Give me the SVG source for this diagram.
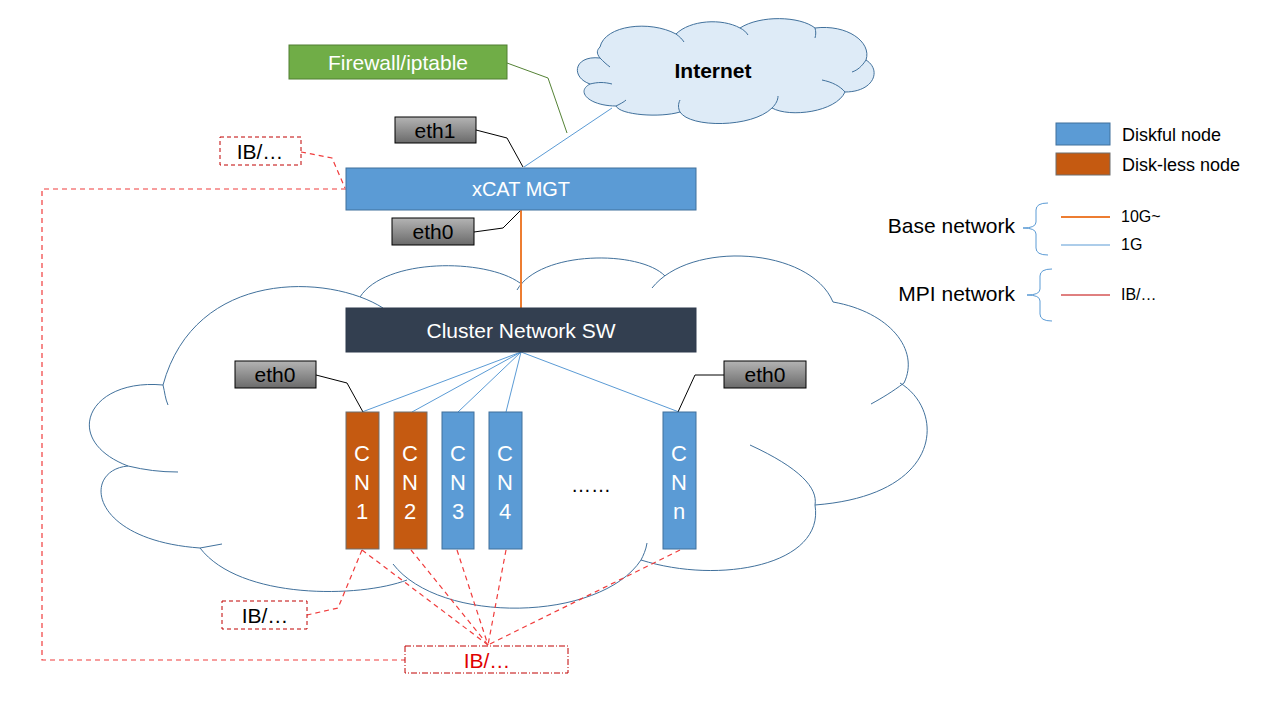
<svg xmlns="http://www.w3.org/2000/svg" width="1280" height="720" viewBox="0 0 1280 720">
<defs>
<linearGradient id="gray" x1="0" y1="0" x2="0" y2="1">
<stop offset="0" stop-color="#B4B4B4"/>
<stop offset="1" stop-color="#6A6A6A"/>
</linearGradient>
<style>
text{font-family:"Liberation Sans",Arial,sans-serif;}
.cloud{fill:none;stroke:#41719C;stroke-width:1;}
.eth rect{fill:url(#gray);stroke:#000;stroke-width:1;}
.eth text{font-size:21px;fill:#000;text-anchor:middle;}
.wt{fill:#fff;text-anchor:middle;}
.blk{stroke:#000;stroke-width:1;fill:none;}
.g1{stroke:#5B9BD5;stroke-width:1;fill:none;}
.ib{stroke:#F03C3C;stroke-width:1.2;stroke-dasharray:5,4;fill:none;}
.ibbox{fill:#fff;stroke:#C00000;stroke-width:1;stroke-dasharray:4,3;}
.cnb{fill:#5B9BD5;stroke:#41719C;stroke-width:1;}
.cno{fill:#C55A11;stroke:#6F6F6F;stroke-width:1;}
.cnt{font-size:22px;fill:#fff;text-anchor:middle;}
.lg{font-size:18px;fill:#000;}
</style>
</defs>
<rect width="1280" height="720" fill="#fff"/>

<!-- big cluster cloud -->
<g id="cluster-cloud" class="cloud">
<path d="M163,385 C195,268 330,274 383,308"/>
<path d="M360,297 C385,258 485,258 520,283"/>
<path d="M517,290 C540,250 640,250 665,276"/>
<path d="M652,288 C690,240 810,247 833,302"/>
<path d="M833,302 C890,312 920,350 904,383"/>
<path d="M904,383 C892,392 882,398 871,404"/>
<path d="M900,383 C945,410 945,495 815,505"/>
<path d="M750,445 C800,468 818,488 815,505"/>
<path d="M815,505 C825,565 720,585 641,560"/>
<path d="M647,543 C646,550 643,556 641,560"/>
<path d="M393,564 C440,625 600,622 641,560"/>
<path d="M407,580 C360,598 240,600 200,548"/>
<path d="M200,548 L222,544"/>
<path d="M200,548 C88,540 82,470 128,466"/>
<path d="M128,466 C145,470 160,472 178,472"/>
<path d="M128,466 C60,440 88,378 163,385"/>
<path d="M163,385 C165,393 165,398 168,405"/>
</g>

<!-- Internet cloud -->
<g id="internet">
<path d="M600,47 C605,25 650,20 676,34 C690,20 722,18 740,28 C760,15 800,16 815,28 C847,24 872,42 866,60 C882,70 874,92 845,92 C836,112 790,118 772,108 C752,128 690,128 680,112 C660,118 620,115 616,106 C590,106 575,92 590,84 C570,77 574,55 600,58 C596,53 597,50 600,47 Z" fill="#DEEBF7" stroke="#41719C" stroke-width="1"/>
<path class="cloud" d="M600,58 C604,62 606,64 610,67 M590,84 C598,82 604,82 612,84 M616,106 C620,104 624,102 626,100 M680,112 C678,108 678,104 680,100 M772,108 C776,104 778,100 778,96 M845,92 C840,86 832,82 822,80 M866,60 C862,66 858,70 852,72 M815,28 C816,32 816,34 815,38 M740,28 C744,30 746,32 748,35 M676,34 C680,37 682,39 684,42"/>
<text x="713" y="78" font-size="21" font-weight="bold" text-anchor="middle" fill="#000">Internet</text>
</g>

<!-- connectors -->
<g id="connectors">
<polyline points="507,63 548,78 567,133" stroke="#548235" stroke-width="1" fill="none"/>
<line x1="524" y1="167" x2="612" y2="108" class="g1"/>
<polyline class="blk" points="476,130 507,138 523,167"/>
<polyline class="blk" points="474,232 503,228 520,211"/>
<line x1="521" y1="210" x2="521" y2="308" stroke="#ED7D31" stroke-width="2"/>
<g class="g1">
<line x1="521" y1="352" x2="362" y2="412"/>
<line x1="521" y1="352" x2="412" y2="412"/>
<line x1="521" y1="352" x2="458" y2="412"/>
<line x1="521" y1="352" x2="506" y2="412"/>
<line x1="521" y1="352" x2="679" y2="412"/>
</g>
<polyline class="blk" points="316,375 347,383 363,412"/>
<polyline class="blk" points="724,375 695,375 678,412"/>
<polyline class="ib" points="301,152 332,158 345,188"/>
<polyline class="ib" points="346,189 42,189 42,660 405,660"/>
<polyline class="ib" points="362,550 338,608 307,615"/>
<g class="ib">
<line x1="362" y1="550" x2="488" y2="645"/>
<line x1="411" y1="550" x2="488" y2="645"/>
<line x1="457" y1="550" x2="488" y2="645"/>
<line x1="506" y1="550" x2="488" y2="645"/>
<line x1="680" y1="550" x2="488" y2="645"/>
</g>
</g>

<g id="firewall">
<rect x="289" y="45" width="218" height="34" fill="#70AD47" stroke="#507E32" stroke-width="1"/>
<text x="398" y="70" font-size="21" class="wt">Firewall/iptable</text>
</g>

<g id="eth1" class="eth"><rect x="395" y="117" width="81" height="26"/><text x="435" y="138">eth1</text></g>

<g id="ib-top">
<rect class="ibbox" x="220" y="137" width="81" height="28"/>
<text x="260" y="159" font-size="21" text-anchor="middle" fill="#000">IB/…</text>
</g>

<g id="xcat-mgt">
<rect x="346" y="168" width="350" height="42" fill="#5B9BD5" stroke="#41719C" stroke-width="1"/>
<text x="521" y="196" font-size="20" class="wt">xCAT MGT</text>
</g>

<g id="eth0-mgt" class="eth"><rect x="392" y="218" width="82" height="27"/><text x="433" y="239">eth0</text></g>

<g id="switch">
<rect x="346" y="308" width="350" height="44" fill="#333F50" stroke="#2F3B4C" stroke-width="1"/>
<text x="521" y="338" font-size="21" class="wt">Cluster Network SW</text>
</g>

<g id="eth0-left" class="eth"><rect x="235" y="361" width="81" height="27"/><text x="275" y="382">eth0</text></g>
<g id="eth0-right" class="eth"><rect x="724" y="361" width="82" height="27"/><text x="765" y="382">eth0</text></g>

<g id="cn1"><rect class="cno" x="346" y="412" width="33" height="137"/><text class="cnt" x="362" y="461">C</text><text class="cnt" x="362" y="490">N</text><text class="cnt" x="362" y="519">1</text></g>
<g id="cn2"><rect class="cno" x="394" y="412" width="33" height="137"/><text class="cnt" x="410" y="461">C</text><text class="cnt" x="410" y="490">N</text><text class="cnt" x="410" y="519">2</text></g>
<g id="cn3"><rect class="cnb" x="442" y="412" width="32" height="137"/><text class="cnt" x="458" y="461">C</text><text class="cnt" x="458" y="490">N</text><text class="cnt" x="458" y="519">3</text></g>
<g id="cn4"><rect class="cnb" x="489" y="412" width="33" height="137"/><text class="cnt" x="505" y="461">C</text><text class="cnt" x="505" y="490">N</text><text class="cnt" x="505" y="519">4</text></g>
<g id="dots"><text x="591" y="492" font-size="20" text-anchor="middle" fill="#000">……</text></g>
<g id="cnn"><rect class="cnb" x="663" y="412" width="33" height="137"/><text class="cnt" x="679" y="461">C</text><text class="cnt" x="679" y="490">N</text><text class="cnt" x="679" y="519">n</text></g>

<g id="ib-left">
<rect class="ibbox" x="222" y="601" width="85" height="28"/>
<text x="265" y="623" font-size="21" text-anchor="middle" fill="#000">IB/…</text>
</g>

<g id="ib-bottom">
<rect x="405" y="646" width="163" height="27" fill="#fff" stroke="#C00000" stroke-width="1" stroke-dasharray="6,2,1,2"/>
<text x="487" y="668" font-size="21" text-anchor="middle" fill="#E00000">IB/…</text>
</g>

<!-- legend -->
<g id="legend">
<rect x="1056" y="123" width="54" height="22" fill="#5B9BD5" stroke="#41719C" stroke-width="1"/>
<text class="lg" x="1122" y="141">Diskful node</text>
<rect x="1056" y="153" width="54" height="22" fill="#C55A11" stroke="#6F6F6F" stroke-width="1"/>
<text class="lg" x="1122" y="171">Disk-less node</text>
<text x="1015" y="233" font-size="21" text-anchor="end" fill="#000">Base network</text>
<path d="M1048,203 Q1036,203 1036,210 L1036,222 Q1036,228 1023,228 Q1036,228 1036,234 L1036,248 Q1036,255 1048,255" fill="none" stroke="#5B9BD5" stroke-width="1"/>
<line x1="1061" y1="217" x2="1110" y2="217" stroke="#ED7D31" stroke-width="2"/>
<text x="1121" y="222" font-size="16" fill="#000">10G~</text>
<line x1="1061" y1="245" x2="1110" y2="245" stroke="#5B9BD5" stroke-width="1"/>
<text x="1121" y="250" font-size="16" fill="#000">1G</text>
<text x="1015" y="301" font-size="21" text-anchor="end" fill="#000">MPI network</text>
<path d="M1052,269 Q1040,269 1040,276 L1040,289 Q1040,295 1027,295 Q1040,295 1040,301 L1040,314 Q1040,321 1052,321" fill="none" stroke="#5B9BD5" stroke-width="1"/>
<line x1="1061" y1="295" x2="1110" y2="295" stroke="#C00000" stroke-width="1"/>
<text x="1121" y="300" font-size="16" fill="#000">IB/…</text>
</g>
</svg>
